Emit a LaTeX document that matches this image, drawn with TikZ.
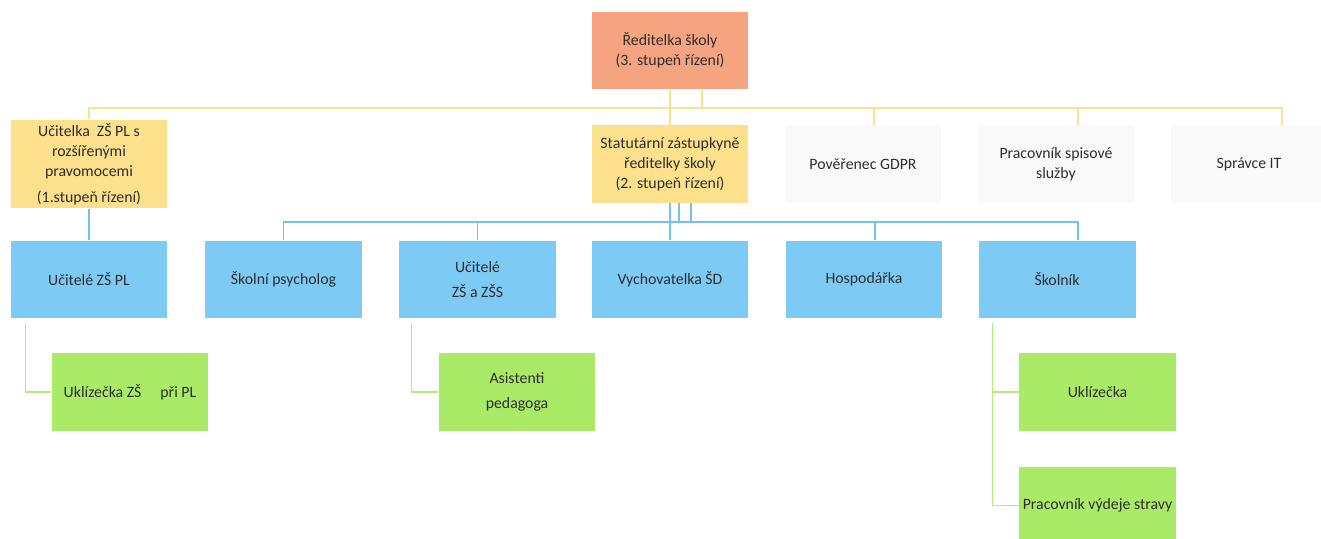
\documentclass[tikz,border=0pt]{standalone}
\usepackage{fontspec}
\setmainfont{Carlito}
\usetikzlibrary{positioning,calc}

\definecolor{oranzova}{HTML}{F5A47F}
\definecolor{zluta}{HTML}{FCE08C}
\definecolor{seda}{HTML}{F9F9F9}
\definecolor{modra}{HTML}{7DCBF4}
\definecolor{zelena}{HTML}{A9EB67}
\definecolor{zlutacara}{HTML}{F4E48E}
\definecolor{modracara}{HTML}{6FC3EE}
\definecolor{zelenacara}{HTML}{B3EC72}
\definecolor{pismo}{HTML}{2E2E2E}

\begin{document}
\begin{tikzpicture}[x=0.02cm, y=-0.02cm,
		box/.style={minimum width=3.14cm, minimum height=1.55cm, align=center, inner sep=2pt, text=pismo, font=\fontsize{9}{11.5}\selectfont},
		reditelbox/.style={box, fill=oranzova},
		zlutybox/.style={box, fill=zluta},
		sedybox/.style={box, fill=seda},
		modrybox/.style={box, fill=modra},
		zelenybox/.style={box, fill=zelena},
		zlcara/.style={draw=zlutacara, line width=0.7pt},
		mcara/.style={draw=modracara, line width=0.7pt},
		zcara/.style={draw=zelenacara, line width=0.7pt}]
		\useasboundingbox[fill=white] (0,0) rectangle (1321,538);
		
		\node[reditelbox] (reditel) at (670,50.5) {Ředitelka školy\\(3. stupeň řízení)};
		
		\node[zlutybox] (ucitelka) at (89,164) {Učitelka\ \ ZŠ PL s\\rozšířenými\\pravomocemi\\[3pt](1.stupeň řízení)};
		\node[zlutybox] (statutar) at (670,164) {Statutární zástupkyně\\ředitelky školy\\(2. stupeň řízení)};
		\node[sedybox] (gdpr) at (863,164) {Pověřenec GDPR};
		\node[sedybox] (spis) at (1056,164) {Pracovník spisové\\služby};
		\node[sedybox] (it) at (1249,164) {Správce IT};
		
		\node[modrybox] (ucitele) at (89,279.5) {Učitelé ZŠ PL};
		\node[modrybox] (psycholog) at (283.5,279.5) {Školní psycholog};
		\node[modrybox] (ucitelezss) at (477.5,279.5) {Učitelé\\[2.5pt]ZŠ a ZŠS};
		\node[modrybox] (vychov) at (670,279.5) {Vychovatelka ŠD};
		\node[modrybox] (hosp) at (864,279.5) {Hospodářka};
		\node[modrybox] (skolnik) at (1057,279.5) {Školník};
		
		\node[zelenybox] (uklzs) at (130,392) {Uklízečka ZŠ\hspace{1.2em}při PL};
		\node[zelenybox] (asist) at (517,392) {Asistenti\\[2.5pt]pedagoga};
		\node[zelenybox] (ukl) at (1097.5,392) {Uklízečka};
		\node[zelenybox] (vydej) at (1097.5,505.5) {Pracovník výdeje stravy};
		
		\coordinate (ybus) at (0,108);
		\coordinate (mbus) at (0,222);
		\coordinate (r2) at ([xshift=0.64cm]reditel.south);
		\coordinate (gdprin) at ([xshift=0.22cm]gdpr.north);
		\coordinate (spisin) at ([xshift=0.44cm]spis.north);
		\coordinate (itin) at ([xshift=0.66cm]it.north);
		\coordinate (s2) at ([xshift=0.18cm]statutar.south);
		\coordinate (s3) at ([xshift=0.42cm]statutar.south);
		\coordinate (hospin) at ([xshift=0.22cm]hosp.north);
		\coordinate (skolin) at ([xshift=0.42cm]skolnik.north);
		
		\draw[zlcara] (reditel.south) -- (statutar.north);
		\draw[zlcara] (r2) -- (r2 |- ybus);
		\draw[zlcara] (ucitelka.north) -- (ucitelka.north |- ybus) -- (itin |- ybus) -- (itin);
		\draw[zlcara] (gdprin |- ybus) -- (gdprin);
		\draw[zlcara] (spisin |- ybus) -- (spisin);
		
		\draw[mcara] (ucitelka.south) -- (ucitele.north);
		\draw[mcara] (statutar.south) -- (vychov.north);
		\draw[mcara] (s2) -- (s2 |- mbus);
		\draw[mcara] (s3) -- (s3 |- mbus);
		\draw[mcara] (psycholog.north) -- (psycholog.north |- mbus) -- (skolin |- mbus) -- (skolin);
		\draw[mcara] (ucitelezss.north |- mbus) -- (ucitelezss.north);
		\draw[mcara] (hospin |- mbus) -- (hospin);
		
		\draw[zcara] ([xshift=0.3cm,yshift=-0.08cm]ucitele.south west) |- (uklzs.west);
		\draw[zcara] ([xshift=0.26cm,yshift=-0.08cm]ucitelezss.south west) |- (asist.west);
		\draw[zcara] ([xshift=0.28cm,yshift=-0.08cm]skolnik.south west) |- (ukl.west);
		\draw[zcara] ([xshift=0.28cm,yshift=-0.08cm]skolnik.south west) |- (vydej.west);
	\end{tikzpicture}
\end{document}
